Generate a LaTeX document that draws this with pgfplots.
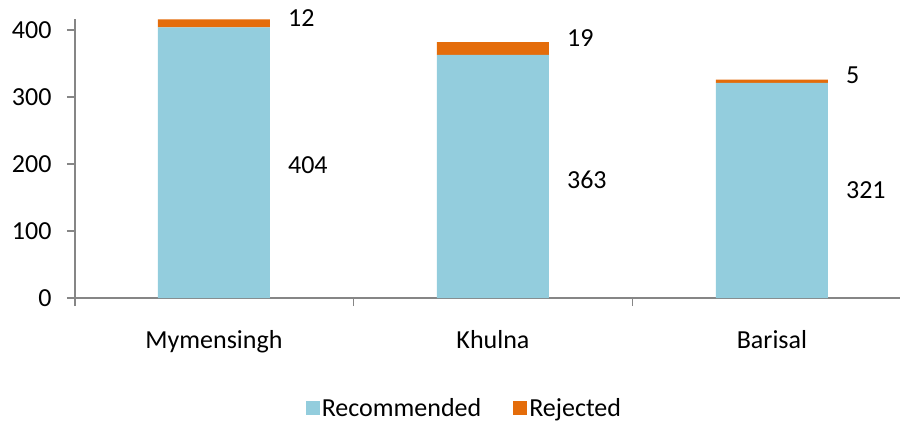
\documentclass[border=0pt]{standalone}
\usepackage{fontspec}
\setmainfont{Carlito}
\usepackage{pgfplots}
\pgfplotsset{compat=1.18}
\definecolor{recblue}{HTML}{93CDDD}
\definecolor{rejorange}{HTML}{E46C0A}
\definecolor{axgray}{HTML}{868686}
\begin{document}
\begin{tikzpicture}[font=\fontsize{26}{31}\selectfont]
\path (0pt,0pt) rectangle (901pt,421pt);
\begin{axis}[
  at={(75pt,123pt)}, anchor=south west,
  scale only axis, width=825pt, height=279pt,
  ybar stacked, bar width=112pt,
  xmin=-0.498, xmax=2.459, ymin=0, ymax=416.4,
  axis x line=bottom, axis y line=left,
  axis line style={axgray, line width=1.2pt, -},
  every tick/.style={axgray, line width=1.2pt},
  tick align=outside,
  ytick={0,100,200,300,400},
  major tick length=8pt,
  xtick={-0.498,0.5,1.5},
  xticklabels={},
  extra x ticks={0,1,2},
  extra x tick labels={Mymensingh,Khulna,Barisal},
  extra x tick style={tick style={draw=none}, xticklabel style={yshift=-21pt}},
  yticklabel style={xshift=-12pt},
  /pgf/number format/assume math mode=true,
  tick label style={font=\fontsize{26}{31}\selectfont},
  legend style={at={(0.472,-0.394)}, anchor=center, draw=none, fill=none, legend columns=2,
    font=\fontsize{26}{31}\selectfont, /tikz/every even column/.append style={column sep=30pt}},
  legend image code/.code={\fill[#1] (0pt,-7pt) rectangle (14pt,7pt);},
  clip=false,
]
\addplot[fill=recblue, draw=none] coordinates {(0,404) (1,363) (2,321)};
\addlegendentry{Recommended}
\addplot[fill=rejorange, draw=none] coordinates {(0,12) (1,19) (2,5)};
\addlegendentry{Rejected}
\node[anchor=west, inner sep=0pt] at (axis cs:0.265,198) {404};
\node[anchor=west, inner sep=0pt] at (axis cs:1.265,176) {363};
\node[anchor=west, inner sep=0pt] at (axis cs:2.265,161) {321};
\node[anchor=west, inner sep=0pt] at (axis cs:0.265,418) {12};
\node[anchor=west, inner sep=0pt] at (axis cs:1.265,388) {19};
\node[anchor=west, inner sep=0pt] at (axis cs:2.265,333) {5};
\end{axis}
\end{tikzpicture}
\end{document}
